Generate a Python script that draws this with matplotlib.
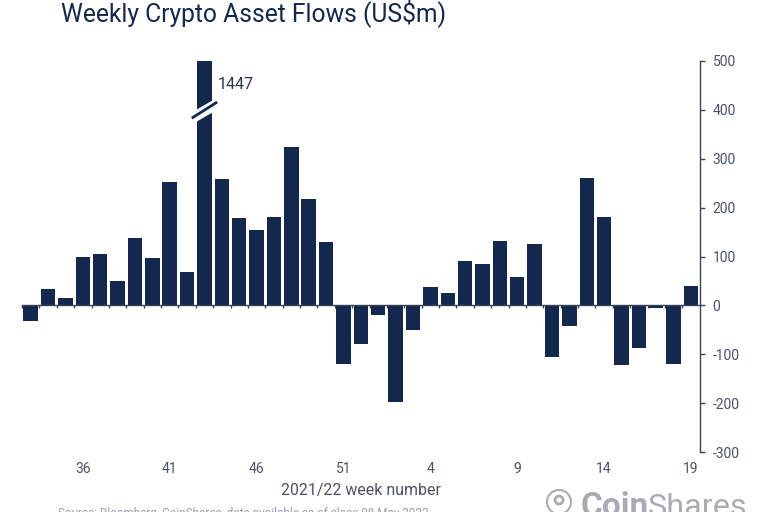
# coding=utf-8
import matplotlib.pyplot as plt
from matplotlib.patches import Circle

weeks = [33, 34, 35, 36, 37, 38, 39, 40, 41, 42, 43, 44, 45, 46, 47, 48, 49, 50, 51, 52,
         1, 2, 3, 4, 5, 6, 7, 8, 9, 10, 11, 12, 13, 14, 15, 16, 17, 18, 19]
flows = [-32, 33, 15, 100, 105, 50, 137, 97, 253, 68, 1447, 258, 178, 154, 180, 325, 218, 130, -120, -80,
         -20, -197, -50, 38, 25, 91, 85, 132, 58, 125, -105, -42, 260, 180, -123, -88, -5, -120, 40]
shown_weeks = [36, 41, 46, 51, 4, 9, 14, 19]
y_ticks = [-300, -200, -100, 0, 100, 200, 300, 400, 500]

navy = '#14274c'
grey = '#4a5263'
plt.rcParams['font.family'] = ['Roboto', 'DejaVu Sans']

W, H = 768, 512
fig = plt.figure(figsize=(W / 100, H / 100), dpi=100)
ax = fig.add_axes([22 / W, 1 - 452 / H, (699.5 - 22) / W, (452 - 61) / H])

x = list(range(len(weeks)))
ax.bar(x, flows, width=0.83, color=navy, zorder=2)
ax.set_xlim(-0.49, len(weeks) - 1 + 0.49)
ax.set_ylim(-300, 500)

# spines: zero line + right axis only
ax.spines['top'].set_visible(False)
ax.spines['left'].set_visible(False)
ax.spines['bottom'].set_position(('data', 0))
ax.spines['bottom'].set_color('#3a4356')
ax.spines['bottom'].set_linewidth(1.0)
ax.spines['bottom'].set_zorder(3)
ax.spines['right'].set_color('#3a4356')
ax.spines['right'].set_linewidth(1.0)

ax.yaxis.tick_right()
ax.set_yticks(y_ticks)
ax.set_yticklabels([str(v) for v in y_ticks], fontsize=10, color=grey)
ax.tick_params(axis='y', length=3.5, width=1, color='#3a4356', pad=6)

ax.set_xticks([weeks.index(w) for w in shown_weeks])
ax.set_xticklabels([str(w) for w in shown_weeks], fontsize=10, color=grey)
ax.tick_params(axis='x', which='major', length=0, pad=113)
ax.set_xticks([i - 0.5 for i in range(0, len(weeks))], minor=True)
ax.tick_params(axis='x', which='minor', length=2.5, width=1, color='#3a4356')

# axis break on the clipped bar
peak = flows.index(max(flows))
ax.plot([peak - 0.8, peak + 0.8], [381, 414], color='white', lw=7.5, zorder=4, solid_capstyle='butt')
ax.plot([peak - 0.73, peak + 0.73], [383, 416], color=navy, lw=2, zorder=5, solid_capstyle='butt')
ax.text(peak + 0.78, 452, str(max(flows)), fontsize=11.5, color='#2c3340', va='center', ha='left')

# title and notes
fig.text(61 / W, 1 - 13 / H, 'Weekly Crypto Asset Flows (US$m)', fontsize=17.7, color=navy, va='center', ha='left')
fig.text(361 / W, 1 - 490 / H, '2021/22 week number', fontsize=11.4, color=grey, va='center', ha='center')
fig.text(58 / W, 1 - 514 / H, 'Source: Bloomberg, CoinShares, data available as of close 08 May 2022',
         fontsize=8.5, color='#9a9fa8', va='center', ha='left')

# logo
logo = '#a9adb3'
fig.text(581 / W, 1 - 507 / H, 'Coin', fontsize=24, fontweight='bold', color=logo, va='center', ha='left')
fig.text(648 / W, 1 - 507 / H, 'Shares', fontsize=23.3, color=logo, va='center', ha='left')
bg = fig.add_axes([0, 0, 1, 1], facecolor='none')
bg.set_xlim(0, W)
bg.set_ylim(H, 0)
bg.axis('off')
bg.add_patch(Circle((559, 502), 12, fill=False, ec=logo, lw=1.5))
bg.add_patch(Circle((559, 500), 4, fill=False, ec=logo, lw=2))

fig.savefig('out.png', dpi=100)
